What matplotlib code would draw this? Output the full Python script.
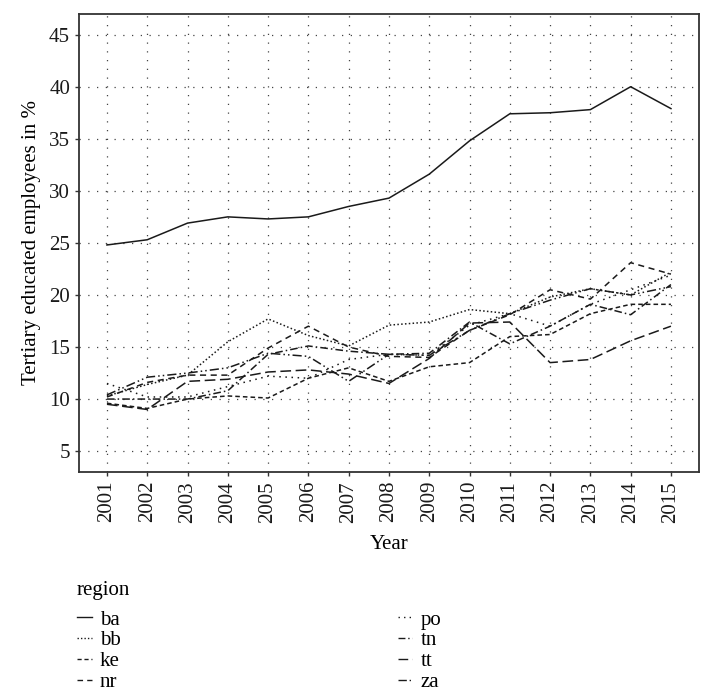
""" tertiary educated employees by region, 2001-2015 """

import matplotlib
matplotlib.use('Agg')
import matplotlib.pyplot as plt

years = list(range(2001, 2016))
regions = ['ba', 'bb', 'ke', 'nr', 'po', 'tn', 'tt', 'za']

ba = [24.8, 25.3, 26.9, 27.5, 27.3, 27.5, 28.5, 29.3, 31.6, 34.8, 37.4, 37.5, 37.8, 40.0, 37.9]
bb = [10.3, 11.4, 12.3, 15.5, 17.7, 16.1, 15.1, 17.1, 17.4, 18.6, 18.2, 19.8, 20.6, 20.0, 22.2]
ke = [9.6, 9.1, 10.0, 10.3, 10.1, 12.0, 13.0, 11.7, 13.1, 13.5, 16.0, 16.2, 18.2, 19.1, 19.1]
nr = [10.2, 11.6, 12.3, 12.3, 14.9, 17.0, 15.0, 14.1, 14.0, 16.6, 18.1, 20.5, 19.6, 23.1, 22.0]
po = [11.5, 10.2, 10.2, 11.2, 12.2, 12.0, 13.8, 14.3, 14.2, 17.1, 18.2, 17.0, 19.1, 20.5, 21.9]
tn = [10.0, 10.0, 10.0, 10.8, 14.3, 15.1, 14.6, 14.3, 14.4, 17.4, 15.3, 17.0, 19.1, 18.1, 21.0]
tt = [9.5, 9.0, 11.7, 11.9, 12.6, 12.8, 12.4, 11.5, 13.9, 17.3, 17.4, 13.5, 13.8, 15.6, 17.0]
za = [10.4, 12.1, 12.5, 13.0, 14.4, 14.1, 11.7, 14.3, 14.2, 16.6, 18.2, 19.5, 20.6, 20.0, 20.8]

series = [ba, bb, ke, nr, po, tn, tt, za]
styles = ['-', (0, (1, 1.5)), (0, (3, 2)), (0, (4, 3)), (0, (1, 3)),
          (0, (5, 2, 1, 2)), (0, (7, 3)), (0, (6, 2, 1, 2, 1, 2))]

plt.rcParams['font.family'] = ['Liberation Serif', 'DejaVu Serif']
plt.rcParams['font.size'] = 14.5

fig = plt.figure(figsize=(7.13, 6.92), dpi=100)
ax = fig.add_axes([0.111, 0.318, 0.869, 0.662])

handles = []
for name, vals, ls in zip(regions, series, styles):
    line, = ax.plot(years, vals, linestyle=ls, color='#1a1a1a', linewidth=1.1, label=name)
    handles.append(line)

ax.set_xlim(2000.31, 2015.69)
ax.set_ylim(3.0, 47.0)
ax.set_xticks(years)
ax.set_xticklabels([str(y) for y in years], rotation=90)
ax.set_yticks(range(5, 50, 5))
ax.grid(True, linestyle=(0, (1, 6)), color='#444444', linewidth=0.9)
ax.tick_params(length=3, width=1, color='#333333', labelcolor='#1a1a1a', labelsize=15)
for s in ax.spines.values():
    s.set_linewidth(1.3)
    s.set_color('#333333')

ax.set_xlabel('Year', labelpad=9, fontsize=15)
ax.set_ylabel('Tertiary educated employees in %', labelpad=6, fontsize=15)

# legend below the plot, title drawn as plain text
fig.text(0.108, 1 - 590 / 692, 'region', ha='left', va='center', fontsize=15)
leg = fig.legend(handles=handles, ncol=2, loc='upper left',
                 bbox_to_anchor=(0.108, 1 - 610 / 692),
                 frameon=False, handlelength=0.7, handletextpad=0.4,
                 labelspacing=0.06, columnspacing=13.3,
                 borderaxespad=0, borderpad=0, fontsize=15)
for h in leg.legend_handles:
    h.set_linewidth(1.0)

fig.savefig('out.png', dpi=100)
